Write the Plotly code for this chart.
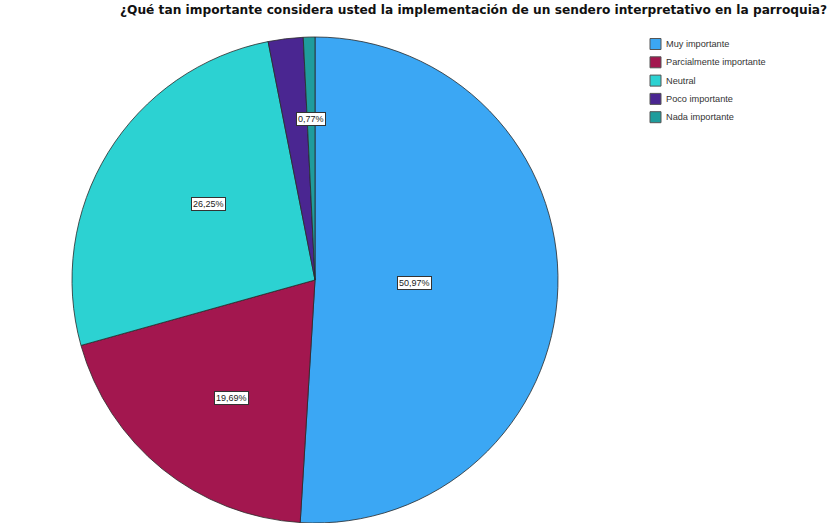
import math
import plotly.graph_objects as go

categories = ["Muy importante", "Parcialmente importante", "Neutral", "Poco importante", "Nada importante"]
values = [50.97, 19.69, 26.25, 2.32, 0.77]
label_texts = ["50,97%", "19,69%", "26,25%", "", "0,77%"]
colors = ["#3ba7f4", "#a3174f", "#2cd2d2", "#4a2691", "#1f9c9c"]
label_radius = [0.41, 0.66, 0.6, 0.6, 0.69]

W, H = 832, 523
cx, cy, R = 315, 280, 243  # pixel center and radius of pie

fig = go.Figure(go.Pie(
    labels=categories, values=values, sort=False, direction="clockwise", rotation=0,
    marker=dict(colors=colors, line=dict(color="#2a2a2a", width=0.8)),
    textinfo="none", hoverinfo="label+percent", showlegend=False,
    domain=dict(x=[(cx - R) / W, (cx + R) / W], y=[(H - cy - R) / H, (H - cy + R) / H]),
))

total = sum(values)
cum = 0.0
for v, t, rf in zip(values, label_texts, label_radius):
    mid = (cum + v / 2) / total * 2 * math.pi
    cum += v
    if not t:
        continue
    px = cx + rf * R * math.sin(mid)
    py = cy - rf * R * math.cos(mid)
    fig.add_annotation(x=px / W, y=1 - py / H, xref="paper", yref="paper", text=t,
                       showarrow=False, font=dict(family="Liberation Sans, Arial", size=9, color="#222"),
                       bgcolor="white", bordercolor="#333", borderwidth=1, borderpad=1)

# manual legend (compact spacing like the reference)
lx, ly0, dy, sw = 650, 44, 18.3, 11
for i, (name, col) in enumerate(zip(categories, colors)):
    yc = ly0 + i * dy
    fig.add_shape(type="rect", xref="paper", yref="paper",
                  x0=lx / W, x1=(lx + sw) / W, y0=1 - (yc - sw / 2) / H, y1=1 - (yc + sw / 2) / H,
                  fillcolor=col, line=dict(color="#555", width=1))
    fig.add_annotation(x=(lx + sw + 3) / W, y=1 - yc / H, xref="paper", yref="paper",
                       xanchor="left", yanchor="middle", text=name, showarrow=False,
                       font=dict(family="Liberation Sans, Arial", size=9.2, color="#333"))

# title
fig.add_annotation(x=473 / W, y=1 - 10 / H, xref="paper", yref="paper",
                   xanchor="center", yanchor="middle", showarrow=False,
                   text="<b>¿Qué tan importante considera usted la implementación de un sendero interpretativo en la parroquia?</b>",
                   font=dict(family="DejaVu Sans, Verdana", size=12.2, color="#111"))

fig.update_layout(
    width=W, height=H, margin=dict(l=0, r=0, t=0, b=0),
    paper_bgcolor="white", plot_bgcolor="white",
)

fig.write_html("out.html", post_script="document.body.style.margin='0';",
               config={"displayModeBar": False})
